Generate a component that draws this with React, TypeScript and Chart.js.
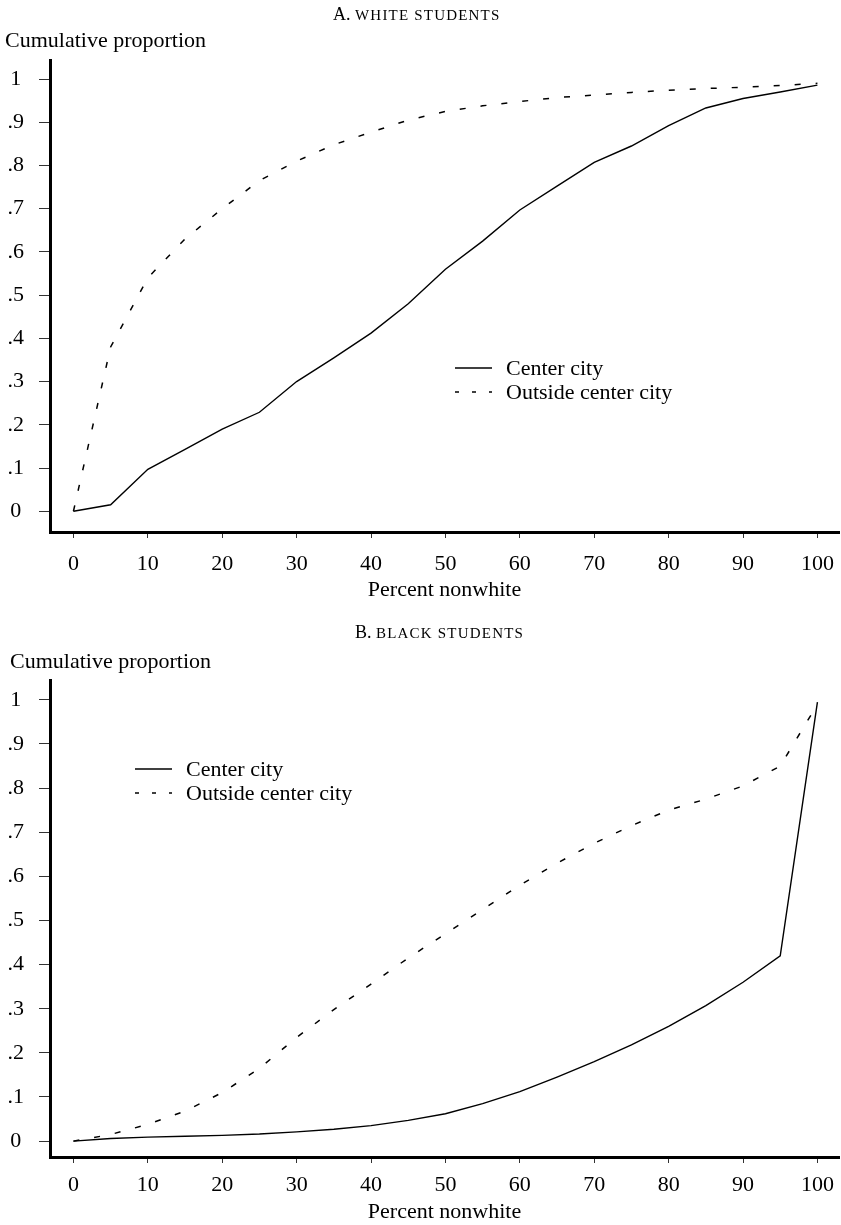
import React, { useEffect, useRef } from 'react';
import { Chart, registerables } from 'chart.js';

Chart.register(...registerables);

// ---- data ----
const pctNonwhite = [0, 5, 10, 15, 20, 25, 30, 35, 40, 45, 50, 55, 60, 65, 70, 75, 80, 85, 90, 95, 100];

const whiteCenterCity = [0.0, 0.015, 0.097, 0.143, 0.19, 0.229, 0.3, 0.355, 0.412, 0.48, 0.56, 0.625, 0.697, 0.752, 0.807, 0.845, 0.892, 0.933, 0.955, 0.97, 0.986];
const whiteOutside = [0.0, 0.38, 0.54, 0.63, 0.7, 0.765, 0.81, 0.848, 0.877, 0.905, 0.925, 0.938, 0.948, 0.957, 0.963, 0.969, 0.974, 0.978, 0.981, 0.985, 0.99];

const blackCenterCity = [0.0, 0.006, 0.009, 0.011, 0.013, 0.016, 0.021, 0.027, 0.035, 0.047, 0.062, 0.085, 0.112, 0.145, 0.18, 0.218, 0.26, 0.307, 0.36, 0.42, 0.995];
const blackOutside = [0.0, 0.015, 0.038, 0.068, 0.11, 0.165, 0.235, 0.298, 0.356, 0.415, 0.47, 0.525, 0.58, 0.63, 0.675, 0.715, 0.75, 0.775, 0.805, 0.85, 0.99];

const xTickValues = [0, 10, 20, 30, 40, 50, 60, 70, 80, 90, 100];
const yTickValues = [0, 0.1, 0.2, 0.3, 0.4, 0.5, 0.6, 0.7, 0.8, 0.9, 1];
const yTickLabels = ['0', '.1', '.2', '.3', '.4', '.5', '.6', '.7', '.8', '.9', '1'];

const seriesLabels = ['Center city', 'Outside center city'];
const panelLetters = ['A.', 'B.'];
const panelNames = ['WHITE STUDENTS', 'BLACK STUDENTS'];
const yAxisTitle = 'Cumulative proportion';
const xAxisTitle = 'Percent nonwhite';

const FONT = "'Liberation Serif', 'DejaVu Serif', serif";

type Panel = {
  top: number;
  height: number;
  areaTop: number;
  areaBottom: number;
  yMin: number;
  yMax: number;
  xTickPad: number;
  xTitlePad: number;
  titleX: number;
  titleBaseline: number;
  yTitleX: number;
  yTitleBaseline: number;
  legendX: number;
  legendY: number;
  center: number[];
  outside: number[];
  letter: string;
  name: string;
};

const panels: Panel[] = [
  {
    top: 0, height: 612, areaTop: 60, areaBottom: 532, yMin: -0.048, yMax: 1.044,
    xTickPad: 13, xTitlePad: 9, titleX: 333, titleBaseline: 20, yTitleX: 5, yTitleBaseline: 47,
    legendX: 455, legendY: 368, center: whiteCenterCity, outside: whiteOutside,
    letter: panelLetters[0], name: panelNames[0],
  },
  {
    top: 612, height: 613, areaTop: 68, areaBottom: 545, yMin: -0.036, yMax: 1.045,
    xTickPad: 9, xTitlePad: 0, titleX: 355, titleBaseline: 26, yTitleX: 10, yTitleBaseline: 56,
    legendX: 135, legendY: 157, center: blackCenterCity, outside: blackOutside,
    letter: panelLetters[1], name: panelNames[1],
  },
];

const DASH = [6, 15];

function makeTextPlugin(p: Panel) {
  return {
    id: 'panelText',
    afterDraw(chart: any) {
      const ctx = chart.ctx as CanvasRenderingContext2D;
      ctx.save();
      ctx.fillStyle = '#000';
      ctx.textBaseline = 'alphabetic';
      ctx.textAlign = 'left';
      // panel title: letter + small caps name
      ctx.font = `18px ${FONT}`;
      ctx.fillText(p.letter, p.titleX, p.titleBaseline);
      const lw = ctx.measureText(p.letter + ' ').width;
      ctx.font = `15px ${FONT}`;
      (ctx as any).letterSpacing = '1.2px';
      ctx.fillText(p.name, p.titleX + lw, p.titleBaseline);
      (ctx as any).letterSpacing = '0px';
      // y axis title
      ctx.font = `22px ${FONT}`;
      ctx.fillText(yAxisTitle, p.yTitleX, p.yTitleBaseline);
      // legend
      const ds = chart.data.datasets;
      ds.forEach((d: any, i: number) => {
        const y = p.legendY + i * 24;
        ctx.save();
        ctx.strokeStyle = '#000';
        ctx.lineWidth = 1.3;
        if (d.borderDash && d.borderDash.length) ctx.setLineDash([4, 13]);
        ctx.beginPath();
        ctx.moveTo(p.legendX, y);
        ctx.lineTo(p.legendX + 37, y);
        ctx.stroke();
        ctx.restore();
        ctx.font = `22px ${FONT}`;
        ctx.textBaseline = 'middle';
        ctx.fillText(d.label, p.legendX + 51, y + 1);
      });
      ctx.restore();
    },
  };
}

function PanelChart({ p }: { p: Panel }) {
  const ref = useRef<HTMLCanvasElement | null>(null);
  useEffect(() => {
    if (!ref.current) return;
    const chart = new Chart(ref.current, {
      type: 'line',
      data: {
        datasets: [
          {
            label: seriesLabels[0],
            data: pctNonwhite.map((x, i) => ({ x, y: p.center[i] })),
            borderColor: '#000',
            borderWidth: 1.4,
            pointRadius: 0,
            tension: 0,
            fill: false,
          },
          {
            label: seriesLabels[1],
            data: pctNonwhite.map((x, i) => ({ x, y: p.outside[i] })),
            borderColor: '#000',
            borderWidth: 1.5,
            borderDash: DASH,
            pointRadius: 0,
            tension: 0,
            fill: false,
          },
        ],
      },
      options: {
        animation: false,
        responsive: false,
        maintainAspectRatio: false,
        layout: { autoPadding: false, padding: { top: p.areaTop, left: 0, right: 2, bottom: 0 } },
        plugins: {
          legend: { display: false },
          title: { display: false },
          tooltip: { enabled: false },
        },
        scales: {
          x: {
            type: 'linear',
            min: -3.15,
            max: 102.9,
            afterBuildTicks: (s: any) => { s.ticks = xTickValues.map((v) => ({ value: v })); },
            afterFit: (s: any) => { s.height = p.height - p.areaBottom; s.paddingLeft = 0; s.paddingRight = 0; },
            grid: { display: true, drawOnChartArea: false, drawTicks: true, tickLength: 6, tickColor: '#333', tickWidth: 1 },
            border: { display: true, color: '#000', width: 3 },
            ticks: {
              color: '#000',
              padding: p.xTickPad,
              maxRotation: 0,
              autoSkip: false,
              font: { family: FONT, size: 22 },
              callback: (v: any) => String(v),
            },
            title: {
              display: true,
              text: xAxisTitle,
              color: '#000',
              font: { family: FONT, size: 22 },
              padding: { top: 0, bottom: p.xTitlePad },
            },
          },
          y: {
            type: 'linear',
            min: p.yMin,
            max: p.yMax,
            afterBuildTicks: (s: any) => { s.ticks = yTickValues.map((v) => ({ value: v })); },
            afterFit: (s: any) => { s.width = 50; s.paddingTop = 0; s.paddingBottom = 0; },
            grid: { display: true, drawOnChartArea: false, drawTicks: true, tickLength: 11, tickColor: '#333', tickWidth: 1 },
            border: { display: true, color: '#000', width: 3 },
            ticks: {
              color: '#000',
              padding: 15,
              crossAlign: 'center',
              autoSkip: false,
              font: { family: FONT, size: 22 },
              callback: (_v: any, i: number) => yTickLabels[i],
            },
          },
        },
      } as any,
      plugins: [makeTextPlugin(p)],
    });
    return () => chart.destroy();
  }, [p]);
  return (
    <canvas
      ref={ref}
      width={841}
      height={p.height}
      style={{ position: 'absolute', left: 0, top: p.top, width: 841, height: p.height, display: 'block' }}
    />
  );
}

export default function App() {
  return (
    <div style={{ position: 'absolute', left: 0, top: 0, width: 841, height: 1225, background: '#fff', overflow: 'hidden' }}>
      {panels.map((p, i) => (
        <PanelChart key={i} p={p} />
      ))}
    </div>
  );
}
